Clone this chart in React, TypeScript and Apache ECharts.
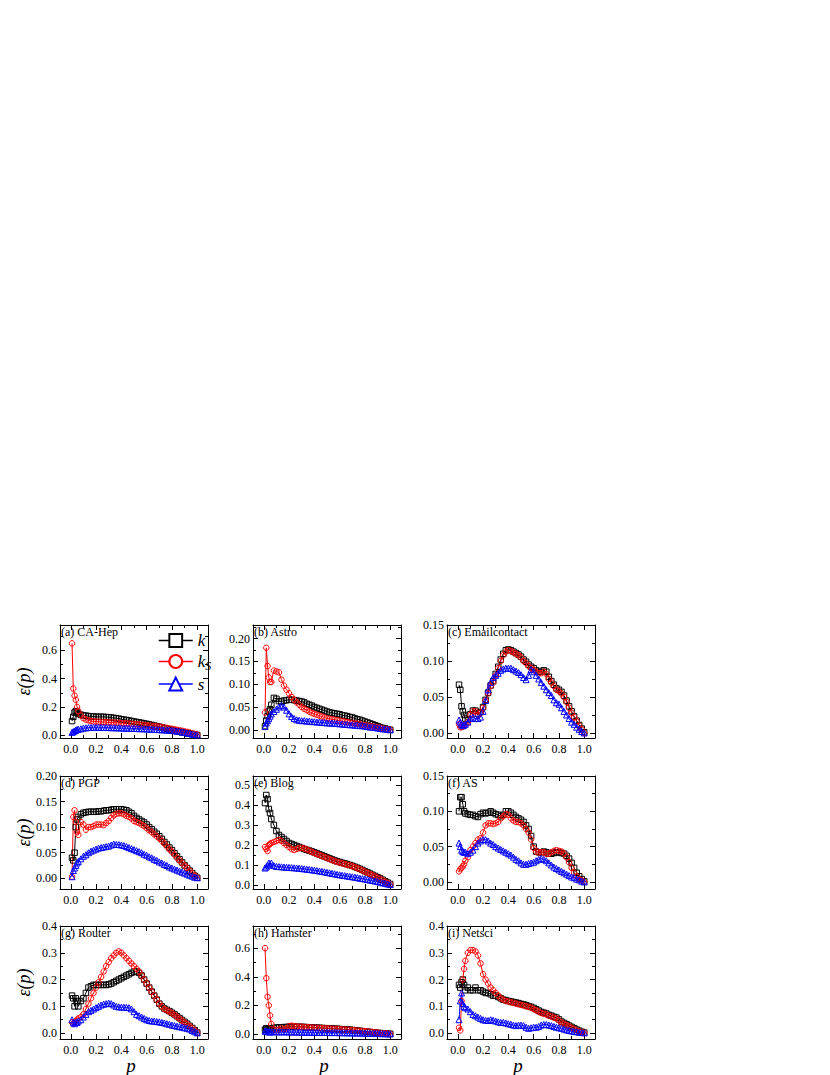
import React, { useEffect, useRef } from "react";
import * as echarts from "echarts";

// Removal fraction p (shared x values for every panel)
const P = [0.01, 0.02, 0.03, 0.04, 0.05, 0.06,
  0.08, 0.10, 0.12, 0.14, 0.16, 0.18, 0.20,
  0.22, 0.24, 0.26, 0.28, 0.30, 0.32, 0.34, 0.36, 0.38, 0.40,
  0.42, 0.44, 0.46, 0.48, 0.50, 0.52, 0.54, 0.56, 0.58, 0.60,
  0.62, 0.64, 0.66, 0.68, 0.70, 0.72, 0.74, 0.76, 0.78, 0.80,
  0.82, 0.84, 0.86, 0.88, 0.90, 0.92, 0.94, 0.96, 0.98, 1.00];

// (a) CA-Hep
const aK = [0.10, 0.13, 0.16, 0.17, 0.16, 0.15,
  0.145, 0.14, 0.138, 0.135, 0.133, 0.132, 0.13,
  0.13, 0.13, 0.13, 0.128, 0.127, 0.125, 0.122, 0.12, 0.117, 0.113,
  0.11, 0.107, 0.104, 0.1, 0.097, 0.093, 0.09, 0.087, 0.083, 0.08,
  0.076, 0.072, 0.068, 0.064, 0.06, 0.055, 0.05, 0.045, 0.04, 0.036,
  0.032, 0.028, 0.024, 0.02, 0.017, 0.013, 0.01, 0.007, 0.004, 0.001];
const aKs = [0.65, 0.33, 0.28, 0.25, 0.20, 0.17,
  0.14, 0.12, 0.11, 0.105, 0.1, 0.098, 0.096,
  0.095, 0.094, 0.093, 0.092, 0.09, 0.09, 0.089, 0.088, 0.087, 0.085,
  0.084, 0.083, 0.082, 0.08, 0.079, 0.077, 0.076, 0.074, 0.072, 0.07,
  0.068, 0.066, 0.064, 0.062, 0.06, 0.057, 0.054, 0.051, 0.048, 0.045,
  0.042, 0.038, 0.035, 0.031, 0.027, 0.023, 0.019, 0.014, 0.009, 0.004];
const aS = [0.02, 0.025, 0.03, 0.035, 0.04, 0.042,
  0.045, 0.05, 0.052, 0.054, 0.055, 0.056, 0.056,
  0.056, 0.055, 0.055, 0.054, 0.054, 0.053, 0.053, 0.052, 0.052, 0.051,
  0.05, 0.05, 0.049, 0.048, 0.048, 0.047, 0.046, 0.046, 0.045, 0.044,
  0.043, 0.042, 0.041, 0.04, 0.039, 0.038, 0.037, 0.036, 0.035, 0.033,
  0.031, 0.029, 0.026, 0.023, 0.02, 0.016, 0.012, 0.008, 0.005, 0.002];

// (b) Astro
const bK = [0.008, 0.02, 0.03, 0.04, 0.045, 0.055,
  0.07, 0.068, 0.063, 0.062, 0.064, 0.065, 0.066,
  0.066, 0.065, 0.064, 0.063, 0.062, 0.06, 0.057, 0.055, 0.053, 0.05,
  0.048, 0.046, 0.044, 0.042, 0.04, 0.038, 0.037, 0.036, 0.035, 0.034,
  0.032, 0.031, 0.03, 0.028, 0.027, 0.025, 0.023, 0.022, 0.02, 0.018,
  0.016, 0.014, 0.012, 0.01, 0.008, 0.006, 0.004, 0.003, 0.001, 0.0];
const bKs = [0.038, 0.18, 0.14, 0.115, 0.105, 0.105,
  0.13, 0.128, 0.126, 0.11, 0.097, 0.088, 0.08,
  0.072, 0.066, 0.06, 0.055, 0.05, 0.046, 0.043, 0.04, 0.037, 0.035,
  0.033, 0.031, 0.029, 0.027, 0.025, 0.024, 0.023, 0.022, 0.021, 0.02,
  0.019, 0.018, 0.017, 0.016, 0.015, 0.014, 0.013, 0.012, 0.011, 0.01,
  0.009, 0.008, 0.007, 0.006, 0.005, 0.004, 0.003, 0.002, 0.001, 0.0];
const bS = [0.007, 0.015, 0.02, 0.025, 0.03, 0.035,
  0.04, 0.045, 0.05, 0.053, 0.05, 0.043, 0.035,
  0.029, 0.025, 0.022, 0.021, 0.02, 0.02, 0.019, 0.019, 0.018, 0.018,
  0.017, 0.017, 0.016, 0.016, 0.015, 0.015, 0.015, 0.014, 0.014, 0.013,
  0.013, 0.012, 0.012, 0.011, 0.011, 0.01, 0.01, 0.009, 0.009, 0.008,
  0.007, 0.006, 0.006, 0.005, 0.004, 0.003, 0.002, 0.002, 0.001, 0.0];

// (c) Emailcontact
const cK = [0.067, 0.06, 0.037, 0.03, 0.025, 0.02,
  0.018, 0.026, 0.031, 0.031, 0.027, 0.029, 0.036,
  0.046, 0.056, 0.066, 0.072, 0.082, 0.092, 0.102, 0.11, 0.115, 0.116,
  0.115, 0.113, 0.111, 0.109, 0.106, 0.102, 0.099, 0.095, 0.092, 0.09,
  0.087, 0.085, 0.085, 0.087, 0.085, 0.078, 0.072, 0.067, 0.062, 0.06,
  0.057, 0.052, 0.045, 0.037, 0.03, 0.023, 0.017, 0.011, 0.006, 0.001];
const cKs = [0.012, 0.008, 0.008, 0.009, 0.01, 0.012,
  0.015, 0.025, 0.03, 0.03, 0.025, 0.028, 0.035,
  0.045, 0.055, 0.065, 0.07, 0.08, 0.09, 0.1, 0.108, 0.113, 0.115,
  0.114, 0.112, 0.11, 0.108, 0.105, 0.1, 0.097, 0.093, 0.09, 0.088,
  0.085, 0.083, 0.083, 0.085, 0.082, 0.075, 0.07, 0.065, 0.06, 0.058,
  0.055, 0.05, 0.043, 0.035, 0.028, 0.022, 0.016, 0.01, 0.005, 0.0];
const cS = [0.018, 0.015, 0.012, 0.01, 0.011, 0.012,
  0.015, 0.02, 0.022, 0.02, 0.02, 0.022, 0.03,
  0.045, 0.06, 0.07, 0.077, 0.08, 0.083, 0.087, 0.089, 0.09, 0.09,
  0.09, 0.088, 0.086, 0.084, 0.081, 0.077, 0.074, 0.08, 0.088, 0.085,
  0.08, 0.075, 0.07, 0.065, 0.06, 0.056, 0.052, 0.046, 0.042, 0.04,
  0.035, 0.03, 0.025, 0.02, 0.015, 0.012, 0.008, 0.005, 0.002, 0.0];

// (d) PGP
const dK = [0.04, 0.035, 0.05, 0.1, 0.115, 0.12,
  0.125, 0.128, 0.129, 0.13, 0.13, 0.13, 0.13,
  0.131, 0.131, 0.132, 0.133, 0.133, 0.134, 0.135, 0.135, 0.135, 0.135,
  0.134, 0.133, 0.13, 0.127, 0.122, 0.118, 0.115, 0.112, 0.109, 0.105,
  0.1, 0.096, 0.091, 0.087, 0.082, 0.077, 0.071, 0.066, 0.06, 0.055,
  0.049, 0.043, 0.037, 0.031, 0.025, 0.02, 0.015, 0.01, 0.005, 0.001];
const dKs = [0.003, 0.12, 0.133, 0.11, 0.09, 0.085,
  0.11, 0.105, 0.095, 0.1, 0.1, 0.102, 0.105,
  0.105, 0.105, 0.104, 0.108, 0.112, 0.118, 0.123, 0.126, 0.127, 0.127,
  0.125, 0.122, 0.12, 0.117, 0.112, 0.11, 0.108, 0.105, 0.102, 0.098,
  0.094, 0.09, 0.086, 0.082, 0.078, 0.073, 0.068, 0.062, 0.057, 0.052,
  0.046, 0.04, 0.035, 0.03, 0.025, 0.02, 0.015, 0.01, 0.005, 0.001];
const dS = [0.003, 0.015, 0.02, 0.025, 0.03, 0.033,
  0.038, 0.043, 0.046, 0.05, 0.053, 0.055, 0.057,
  0.059, 0.06, 0.061, 0.062, 0.063, 0.065, 0.067, 0.066, 0.066, 0.065,
  0.064, 0.062, 0.06, 0.058, 0.056, 0.054, 0.052, 0.05, 0.047, 0.045,
  0.042, 0.04, 0.037, 0.035, 0.032, 0.03, 0.027, 0.025, 0.022, 0.02,
  0.018, 0.016, 0.014, 0.012, 0.01, 0.008, 0.006, 0.004, 0.002, 0.001];

// (e) Blog
const eK = [0.41, 0.45, 0.43, 0.38, 0.36, 0.33,
  0.3, 0.27, 0.25, 0.24, 0.23, 0.22, 0.21,
  0.205, 0.2, 0.195, 0.19, 0.185, 0.18, 0.176, 0.172, 0.168, 0.163,
  0.158, 0.153, 0.148, 0.143, 0.138, 0.133, 0.128, 0.123, 0.118, 0.115,
  0.111, 0.108, 0.104, 0.1, 0.096, 0.091, 0.086, 0.081, 0.075, 0.069,
  0.063, 0.057, 0.051, 0.045, 0.039, 0.033, 0.026, 0.019, 0.012, 0.005];
const eKs = [0.19, 0.18, 0.17, 0.2, 0.205, 0.21,
  0.215, 0.22, 0.225, 0.22, 0.21, 0.2, 0.19,
  0.18, 0.175, 0.18, 0.185, 0.185, 0.182, 0.178, 0.172, 0.166, 0.16,
  0.155, 0.15, 0.145, 0.14, 0.135, 0.13, 0.125, 0.12, 0.116, 0.112,
  0.108, 0.105, 0.101, 0.098, 0.094, 0.089, 0.084, 0.079, 0.073, 0.067,
  0.061, 0.055, 0.049, 0.043, 0.037, 0.031, 0.024, 0.017, 0.01, 0.003];
const eS = [0.085, 0.09, 0.1, 0.11, 0.1, 0.11,
  0.097, 0.093, 0.092, 0.091, 0.09, 0.089, 0.088,
  0.087, 0.086, 0.085, 0.084, 0.082, 0.081, 0.079, 0.078, 0.076, 0.074,
  0.072, 0.07, 0.068, 0.066, 0.063, 0.061, 0.058, 0.056, 0.053, 0.051,
  0.049, 0.047, 0.045, 0.043, 0.041, 0.039, 0.037, 0.034, 0.032, 0.03,
  0.027, 0.025, 0.022, 0.02, 0.017, 0.014, 0.011, 0.008, 0.005, 0.002];

// (f) AS
const fK = [0.1, 0.12, 0.12, 0.11, 0.1, 0.097,
  0.096, 0.095, 0.095, 0.093, 0.092, 0.096, 0.098,
  0.097, 0.098, 0.1, 0.098, 0.096, 0.095, 0.093, 0.095, 0.1, 0.1,
  0.098, 0.095, 0.092, 0.09, 0.088, 0.085, 0.08, 0.075, 0.065, 0.05,
  0.043, 0.042, 0.042, 0.043, 0.042, 0.04, 0.04, 0.041, 0.042, 0.042,
  0.041, 0.04, 0.037, 0.033, 0.027, 0.02, 0.013, 0.008, 0.004, 0.001];
const fKs = [0.015, 0.018, 0.02, 0.022, 0.025, 0.03,
  0.035, 0.045, 0.05, 0.055, 0.06, 0.062, 0.07,
  0.08, 0.083, 0.083, 0.082, 0.083, 0.085, 0.09, 0.093, 0.096, 0.095,
  0.09, 0.087, 0.085, 0.085, 0.083, 0.08, 0.075, 0.07, 0.06, 0.048,
  0.043, 0.042, 0.042, 0.042, 0.04, 0.04, 0.042, 0.044, 0.045, 0.044,
  0.043, 0.04, 0.035, 0.028, 0.02, 0.013, 0.008, 0.004, 0.002, 0.0];
const fS = [0.055, 0.05, 0.045, 0.043, 0.042, 0.042,
  0.04, 0.042, 0.045, 0.05, 0.055, 0.058, 0.06,
  0.06, 0.058, 0.055, 0.053, 0.05, 0.048, 0.046, 0.044, 0.042, 0.04,
  0.038, 0.035, 0.032, 0.03, 0.027, 0.025, 0.025, 0.026, 0.027, 0.028,
  0.03, 0.032, 0.033, 0.032, 0.03, 0.027, 0.024, 0.021, 0.019, 0.017,
  0.015, 0.013, 0.011, 0.009, 0.007, 0.006, 0.004, 0.003, 0.001, 0.0];

// (g) Router
const gK = [0.14, 0.13, 0.1, 0.13, 0.12, 0.1,
  0.12, 0.13, 0.15, 0.17, 0.175, 0.18, 0.18,
  0.18, 0.18, 0.18, 0.18, 0.182, 0.185, 0.19, 0.195, 0.2, 0.205,
  0.21, 0.215, 0.22, 0.225, 0.23, 0.23, 0.225, 0.215, 0.2, 0.185,
  0.17, 0.155, 0.14, 0.125, 0.11, 0.1, 0.092, 0.087, 0.082, 0.076,
  0.07, 0.063, 0.056, 0.049, 0.042, 0.035, 0.027, 0.019, 0.011, 0.002];
const gKs = [0.04, 0.035, 0.04, 0.045, 0.05, 0.055,
  0.06, 0.07, 0.09, 0.11, 0.13, 0.15, 0.17,
  0.19, 0.21, 0.23, 0.25, 0.265, 0.28, 0.29, 0.3, 0.305, 0.3,
  0.29, 0.28, 0.27, 0.26, 0.25, 0.24, 0.23, 0.215, 0.2, 0.185,
  0.17, 0.155, 0.14, 0.125, 0.11, 0.1, 0.09, 0.085, 0.08, 0.074,
  0.068, 0.061, 0.054, 0.047, 0.04, 0.033, 0.026, 0.018, 0.01, 0.002];
const gS = [0.05, 0.04, 0.035, 0.04, 0.04, 0.045,
  0.05, 0.06, 0.07, 0.08, 0.085, 0.09, 0.095,
  0.1, 0.105, 0.108, 0.11, 0.112, 0.11, 0.105, 0.1, 0.098, 0.097,
  0.097, 0.096, 0.095, 0.09, 0.08, 0.07, 0.065, 0.06, 0.055, 0.05,
  0.047, 0.045, 0.045, 0.043, 0.042, 0.04, 0.038, 0.035, 0.033, 0.03,
  0.028, 0.026, 0.024, 0.022, 0.02, 0.018, 0.015, 0.01, 0.005, 0.001];

// (h) Hamster
const hK = [0.03, 0.04, 0.035, 0.03, 0.035, 0.04,
  0.042, 0.045, 0.046, 0.047, 0.048, 0.049, 0.05,
  0.05, 0.05, 0.05, 0.05, 0.05, 0.049, 0.048, 0.047, 0.046, 0.045,
  0.044, 0.043, 0.042, 0.041, 0.04, 0.039, 0.038, 0.037, 0.036, 0.035,
  0.033, 0.032, 0.031, 0.03, 0.028, 0.026, 0.024, 0.022, 0.02, 0.018,
  0.016, 0.014, 0.012, 0.01, 0.008, 0.006, 0.005, 0.003, 0.002, 0.001];
const hKs = [0.6, 0.39, 0.26, 0.2, 0.13, 0.07,
  0.03, 0.025, 0.03, 0.04, 0.035, 0.04, 0.055,
  0.058, 0.055, 0.052, 0.05, 0.05, 0.048, 0.047, 0.046, 0.045, 0.044,
  0.043, 0.042, 0.041, 0.04, 0.039, 0.038, 0.037, 0.036, 0.035, 0.034,
  0.032, 0.031, 0.03, 0.028, 0.027, 0.025, 0.024, 0.022, 0.02, 0.019,
  0.017, 0.015, 0.013, 0.011, 0.009, 0.008, 0.006, 0.004, 0.002, 0.001];
const hS = [0.02, 0.018, 0.016, 0.015, 0.015, 0.015,
  0.015, 0.015, 0.015, 0.015, 0.015, 0.015, 0.014,
  0.014, 0.014, 0.014, 0.013, 0.013, 0.013, 0.013, 0.012, 0.012, 0.012,
  0.012, 0.011, 0.011, 0.011, 0.011, 0.01, 0.01, 0.01, 0.01, 0.009,
  0.009, 0.009, 0.008, 0.008, 0.008, 0.007, 0.007, 0.007, 0.006, 0.006,
  0.005, 0.005, 0.004, 0.004, 0.003, 0.003, 0.002, 0.002, 0.001, 0.001];

// (i) Netsci
const iK = [0.18, 0.17, 0.19, 0.2, 0.18, 0.16,
  0.17, 0.16, 0.16, 0.17, 0.16, 0.16, 0.155,
  0.15, 0.15, 0.145, 0.14, 0.14, 0.135, 0.13, 0.125, 0.123, 0.12,
  0.118, 0.116, 0.114, 0.112, 0.109, 0.107, 0.104, 0.101, 0.098, 0.094,
  0.089, 0.084, 0.079, 0.076, 0.073, 0.068, 0.065, 0.061, 0.058, 0.051,
  0.043, 0.038, 0.033, 0.028, 0.023, 0.018, 0.013, 0.009, 0.005, 0.002];
const iKs = [0.02, 0.01, 0.12, 0.2, 0.24, 0.27,
  0.3, 0.31, 0.31, 0.305, 0.29, 0.26, 0.22,
  0.2, 0.185, 0.17, 0.16, 0.15, 0.14, 0.13, 0.125, 0.12, 0.118,
  0.115, 0.113, 0.11, 0.108, 0.105, 0.103, 0.1, 0.098, 0.095, 0.09,
  0.085, 0.08, 0.075, 0.072, 0.07, 0.065, 0.062, 0.058, 0.055, 0.048,
  0.04, 0.035, 0.03, 0.025, 0.02, 0.015, 0.01, 0.007, 0.004, 0.001];
const iS = [0.05, 0.12, 0.15, 0.11, 0.1, 0.095,
  0.09, 0.08, 0.07, 0.065, 0.06, 0.055, 0.05,
  0.048, 0.047, 0.05, 0.048, 0.045, 0.042, 0.04, 0.04, 0.038, 0.035,
  0.033, 0.03, 0.028, 0.03, 0.03, 0.028, 0.022, 0.018, 0.02, 0.022,
  0.022, 0.025, 0.03, 0.032, 0.032, 0.03, 0.028, 0.025, 0.022, 0.02,
  0.018, 0.015, 0.012, 0.01, 0.008, 0.006, 0.005, 0.003, 0.002, 0.001];

// Tick values
const X_MAJOR = [0, 0.2, 0.4, 0.6, 0.8, 1.0];
const X_MINOR = [0.1, 0.3, 0.5, 0.7, 0.9];
const Y_02 = [0, 0.2, 0.4, 0.6];
const Y_02m = [0.1, 0.3, 0.5, 0.7];
const Y_005_20 = [0, 0.05, 0.1, 0.15, 0.2];
const Y_005_20m = [0.025, 0.075, 0.125, 0.175, 0.225];
const Y_005_15 = [0, 0.05, 0.1, 0.15];
const Y_005_15m = [0.025, 0.075, 0.125];
const Y_01_5 = [0, 0.1, 0.2, 0.3, 0.4, 0.5];
const Y_01_5m = [0.05, 0.15, 0.25, 0.35, 0.45];
const Y_01_4 = [0, 0.1, 0.2, 0.3, 0.4];
const Y_01_4m = [0.05, 0.15, 0.25, 0.35];

const TITLES = ["(a) CA-Hep", "(b) Astro", "(c) Emailcontact", "(d) PGP", "(e) Blog", "(f) AS", "(g) Router", "(h) Hamster", "(i) Netsci"];
const K_DATA = [aK, bK, cK, dK, eK, fK, gK, hK, iK];
const KS_DATA = [aKs, bKs, cKs, dKs, eKs, fKs, gKs, hKs, iKs];
const S_DATA = [aS, bS, cS, dS, eS, fS, gS, hS, iS];
const Y_MIN = [-0.02, -0.018, -0.007, -0.021, -0.02, -0.01, -0.022, -0.035, -0.022];
const Y_MAX = [0.78, 0.23, 0.15, 0.2, 0.545, 0.15, 0.4, 0.755, 0.4];
const Y_MAJOR = [Y_02, Y_005_20, Y_005_15, Y_005_20, Y_01_5, Y_005_15, Y_01_4, Y_02, Y_01_4];
const Y_MINOR = [Y_02m, Y_005_20m, Y_005_15m, Y_005_20m, Y_01_5m, Y_005_15m, Y_01_4m, Y_02m, Y_01_4m];
const Y_DEC = [1, 2, 2, 2, 1, 2, 1, 1, 1];

// Layout
const COL_LEFT = [60, 253, 447];
const ROW_TOP = [625, 776, 926];
const PLOT_W = 148;
const PLOT_H = 113;
const X_MIN = -0.085;
const X_MAX = 1.085;
const FONT = '"Liberation Serif", "Times New Roman", serif';
const C_K = "#000000";
const C_KS = "#ff0000";
const C_S = "#0000ff";

function mkAxis(kind: "x" | "y", gridIndex: number, position: string, min: number, max: number,
  ticks: number[], tickLen: number, showLine: boolean, labels: boolean, dec: number) {
  return {
    type: "value",
    gridIndex,
    position,
    min,
    max,
    axisLine: { show: showLine, onZero: false, lineStyle: { color: "#000", width: 1 } },
    axisTick: { show: true, inside: true, length: tickLen, customValues: ticks, lineStyle: { color: "#000", width: 1 } },
    axisLabel: labels
      ? {
          show: true,
          customValues: ticks,
          formatter: (v: number) => Number(v).toFixed(dec),
          fontFamily: FONT,
          fontSize: 12,
          color: "#000",
          margin: kind === "x" ? 5 : 3,
        }
      : { show: false },
    splitLine: { show: false },
    minorTick: { show: false },
  };
}

function mkSeries(name: string, values: number[], symbol: string, color: string, idx: number) {
  return {
    type: "line",
    name,
    xAxisIndex: idx,
    yAxisIndex: idx,
    data: P.map((p, j) => [p, values[j]]),
    symbol,
    symbolSize: symbol === "triangle" ? 6 : 5.5,
    showAllSymbol: true,
    lineStyle: { color, width: 1 },
    itemStyle: { color: "rgba(0,0,0,0)", borderColor: color, borderWidth: 1 },
    emphasis: { disabled: true },
    silent: true,
  };
}

export default function App() {
  const ref = useRef<HTMLDivElement>(null);
  useEffect(() => {
    if (!ref.current) return;
    const chart = echarts.init(ref.current, null, { renderer: "svg" });
    const grid: any[] = [];
    const xAxis: any[] = [];
    const yAxis: any[] = [];
    const series: any[] = [];
    const graphic: any[] = [];

    TITLES.forEach((title, i) => {
      const col = i % 3;
      const row = Math.floor(i / 3);
      const rect = { left: COL_LEFT[col], top: ROW_TOP[row], width: PLOT_W, height: PLOT_H, containLabel: false };
      grid.push({ ...rect });
      grid.push({ ...rect });
      const g0 = 2 * i;
      const g1 = 2 * i + 1;
      xAxis.push(mkAxis("x", g0, "bottom", X_MIN, X_MAX, X_MAJOR, 5, true, true, 1));
      xAxis.push(mkAxis("x", g0, "top", X_MIN, X_MAX, X_MAJOR, 5, true, false, 1));
      xAxis.push(mkAxis("x", g1, "bottom", X_MIN, X_MAX, X_MINOR, 3, false, false, 1));
      xAxis.push(mkAxis("x", g1, "top", X_MIN, X_MAX, X_MINOR, 3, false, false, 1));
      yAxis.push(mkAxis("y", g0, "left", Y_MIN[i], Y_MAX[i], Y_MAJOR[i], 5, true, true, Y_DEC[i]));
      yAxis.push(mkAxis("y", g0, "right", Y_MIN[i], Y_MAX[i], Y_MAJOR[i], 5, true, false, Y_DEC[i]));
      yAxis.push(mkAxis("y", g1, "left", Y_MIN[i], Y_MAX[i], Y_MINOR[i], 3, false, false, Y_DEC[i]));
      yAxis.push(mkAxis("y", g1, "right", Y_MIN[i], Y_MAX[i], Y_MINOR[i], 3, false, false, Y_DEC[i]));

      const ai = 4 * i;
      series.push(mkSeries("k", K_DATA[i], "rect", C_K, ai));
      series.push(mkSeries("ks", KS_DATA[i], "circle", C_KS, ai));
      series.push(mkSeries("s", S_DATA[i], "triangle", C_S, ai));

      graphic.push({
        type: "text",
        x: COL_LEFT[col] + 1,
        y: ROW_TOP[row] + 1,
        silent: true,
        style: { text: title, font: `12px ${FONT}`, fill: "#000", align: "left", verticalAlign: "top" },
      });
    });

    ROW_TOP.forEach((top) => {
      graphic.push({
        type: "text",
        x: 24,
        y: top + PLOT_H / 2,
        rotation: Math.PI / 2,
        silent: true,
        style: { text: "ε(p)", font: `italic 18px ${FONT}`, fill: "#000", align: "center", verticalAlign: "middle" },
      });
    });
    COL_LEFT.forEach((left) => {
      graphic.push({
        type: "text",
        x: left + PLOT_W / 2 - 3,
        y: 1065,
        silent: true,
        style: { text: "p", font: `italic 19px ${FONT}`, fill: "#000", align: "center", verticalAlign: "middle" },
      });
    });

    chart.setOption({
      animation: false,
      backgroundColor: "#fff",
      grid,
      xAxis,
      yAxis,
      series,
      graphic,
      legend: {
        show: true,
        orient: "vertical",
        left: 153,
        top: 627,
        itemWidth: 34,
        itemHeight: 16,
        itemGap: 4,
        selectedMode: false,
        data: ["k", "ks", "s"],
        itemStyle: { color: "#fff", borderWidth: 2 },
        lineStyle: { width: 1.5 },
        formatter: (name: string) => (name === "k" ? "{i|k}" : name === "ks" ? "{i|k}{sub|S}" : "{i|s}"),
        textStyle: {
          fontFamily: FONT,
          fontSize: 17,
          fontStyle: "italic",
          color: "#000",
          rich: {
            i: { fontFamily: FONT, fontSize: 17, fontStyle: "italic", color: "#000", verticalAlign: "middle" },
            sub: { fontFamily: FONT, fontSize: 12, fontStyle: "italic", color: "#000", verticalAlign: "bottom", padding: [8, 0, 0, 0] },
          },
        },
      },
    });
    return () => chart.dispose();
  }, []);
  return (
    <div
      ref={ref}
      style={{ position: "fixed", left: 0, top: 0, width: 830, height: 1075, background: "#fff" }}
    />
  );
}
